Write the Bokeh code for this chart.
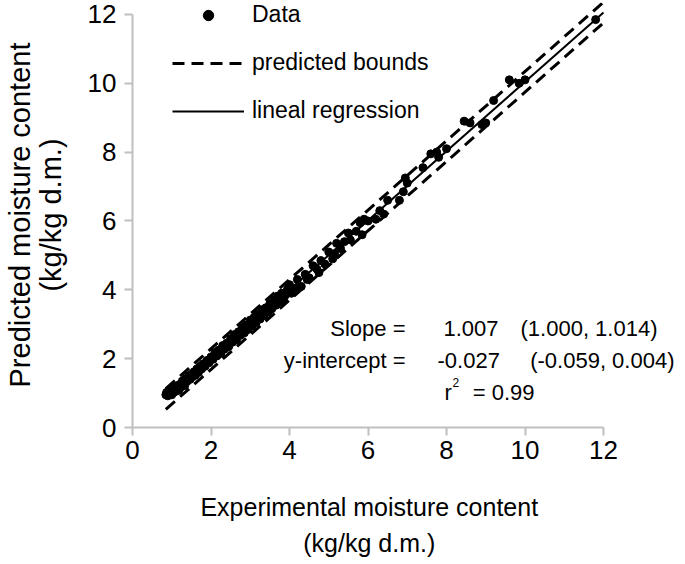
from bokeh.plotting import figure
from bokeh.models import Range1d, FixedTicker, Legend, LegendItem, Label, ColumnDataSource
from bokeh.embed import file_html
from bokeh.resources import INLINE

# ---- data ----
experimental = [
    0.85, 0.87, 0.90, 0.92, 0.95, 0.98, 1.00, 1.03, 1.05, 1.08, 1.10, 1.13, 1.15, 1.18, 1.20, 1.24, 1.27, 1.30,
    1.33, 1.36, 1.40, 1.43, 1.47, 1.50, 1.54, 1.57, 1.60, 1.64, 1.68, 1.72, 1.76, 1.80, 1.85, 1.90, 1.95, 2.00,
    2.05, 2.10, 2.15, 2.20, 2.25, 2.30, 2.35, 2.40, 2.45, 2.50, 2.55, 2.60, 2.65, 2.70, 2.75, 2.80, 2.85, 2.90,
    2.95, 3.00, 3.05, 3.10, 3.15, 3.20, 3.25, 3.30, 3.35, 3.40, 3.45, 3.50, 3.55, 3.60, 3.65, 3.70, 3.75, 3.80,
    3.85, 3.90, 3.95,
    4.00, 4.05, 4.15, 4.20, 4.30, 4.40, 4.45, 4.50, 4.60, 4.70, 4.75, 4.80, 4.90, 5.00, 5.10, 5.15, 5.20, 5.30,
    5.40, 5.50, 5.55, 5.70, 5.80, 5.85, 5.90, 6.00, 6.20, 6.30, 6.40, 6.50, 6.80, 6.90, 6.95, 7.00, 7.40, 7.60,
    7.75, 7.80, 8.00, 8.45, 8.60, 8.90, 9.00, 9.20, 9.60, 9.85, 10.00, 11.80,
]
predicted = [
    0.95, 1.02, 0.92, 1.05, 0.98, 1.08, 0.95, 1.12, 1.02, 1.15, 1.05, 1.20, 1.10, 1.08, 1.25, 1.18, 1.35, 1.28,
    1.22, 1.42, 1.35, 1.50, 1.40, 1.55, 1.48, 1.62, 1.52, 1.70, 1.60, 1.78, 1.70, 1.85, 1.78, 1.95, 1.88, 2.05,
    1.98, 2.18, 2.08, 2.25, 2.15, 2.38, 2.28, 2.45, 2.35, 2.58, 2.48, 2.70, 2.55, 2.78, 2.68, 2.90, 2.75, 2.98,
    2.85, 3.12, 2.95, 3.20, 3.05, 3.30, 3.15, 3.42, 3.25, 3.48, 3.35, 3.60, 3.45, 3.70, 3.55, 3.82, 3.65, 3.90,
    3.72, 3.85, 4.02,
    4.15, 3.90, 4.05, 4.30, 4.10, 4.45, 4.30, 4.35, 4.70, 4.60, 4.50, 4.85, 4.75, 5.10, 4.90, 5.05, 5.35, 5.20,
    5.40, 5.65, 5.45, 5.70, 5.95, 5.60, 6.05, 6.00, 6.05, 6.30, 6.20, 6.60, 6.60, 6.85, 7.25, 7.10, 7.55, 7.95,
    8.00, 7.85, 8.10, 8.90, 8.85, 8.80, 8.85, 9.50, 10.10, 10.00, 10.10, 11.85,
]

slope = 1.007
intercept = -0.027
bound_halfwidth = 0.3
fit_x = [0.85, 12.0]
fit_y = [slope * v + intercept for v in fit_x]
upper_y = [v + bound_halfwidth for v in fit_y]
lower_y = [v - bound_halfwidth for v in fit_y]

ticks = [0, 2, 4, 6, 8, 10, 12]

FONT = "Liberation Sans"
AXIS_COLOR = "#bfbfbf"
PX_X = 39.25   # pixels per x unit
PX_Y = 34.42   # pixels per y unit
FW, FH = 543, 425

p = figure(
    frame_width=FW, frame_height=FH,
    min_border_left=132, min_border_right=0, min_border_top=2, min_border_bottom=124,
    x_range=Range1d(0, FW / PX_X), y_range=Range1d(0, FH / PX_Y),
    output_backend="svg", toolbar_location=None,
)
p.outline_line_color = None
p.grid.visible = False
p.background_fill_color = "white"
p.border_fill_color = "white"

for ax in (p.xaxis[0], p.yaxis[0]):
    ax.ticker = FixedTicker(ticks=ticks)
    ax.bounds = (0, 12)
    ax.axis_line_color = AXIS_COLOR
    ax.axis_line_width = 2
    ax.major_tick_line_color = AXIS_COLOR
    ax.major_tick_line_width = 2
    ax.major_tick_out = 8
    ax.major_tick_in = 0
    ax.minor_tick_line_color = None
    ax.major_label_text_font = FONT
    ax.major_label_text_font_size = "26px"
    ax.major_label_text_color = "black"
    ax.axis_label_text_font = FONT
    ax.axis_label_text_font_style = "normal"
    ax.axis_label_text_color = "black"

pad = "\u00a0" * 10
p.xaxis.axis_label = "Experimental moisture content" + pad + "\n(kg/kg d.m.)" + pad
p.yaxis.axis_label = "Predicted moisture content\n(kg/kg d.m.)"
p.xaxis.axis_label_text_font_size = "25px"
p.yaxis.axis_label_text_font_size = "29px"
p.xaxis.axis_label_text_line_height = 1.3
p.yaxis.axis_label_text_line_height = 0.95
p.xaxis.major_label_standoff = 5
p.yaxis.major_label_standoff = 8
p.xaxis.axis_label_standoff = 31
p.yaxis.axis_label_standoff = 18

src = ColumnDataSource(dict(x=experimental, y=predicted))
r_up = p.line(fit_x, upper_y, line_color="black", line_width=3, line_dash="12 7")
r_lo = p.line(fit_x, lower_y, line_color="black", line_width=3, line_dash="12 7")
r_fit = p.line(fit_x, fit_y, line_color="black", line_width=2)
r_pts = p.scatter("x", "y", source=src, size=8, marker="circle", fill_color="black", line_color="black")

legend = Legend(
    items=[
        LegendItem(label="Data", renderers=[r_pts]),
        LegendItem(label="predicted bounds", renderers=[r_up]),
        LegendItem(label="lineal regression", renderers=[r_fit]),
    ],
    location=(40, 303),
    glyph_width=72, glyph_height=26, label_height=26,
    label_standoff=8, spacing=21, padding=0, margin=0,
    border_line_color=None, background_fill_alpha=0,
    label_text_font=FONT, label_text_font_size="23px", label_text_color="black",
)
p.add_layout(legend, "center")


def X(px):
    return (px - 135) / PX_X


def Y(py):
    return (426 - py) / PX_Y


TXT = dict(text_font=FONT, text_font_size="22px", text_color="black", text_baseline="middle")
p.add_layout(Label(x=X(408), y=Y(327), text="Slope =", text_align="right", **TXT))
p.add_layout(Label(x=X(446), y=Y(327), text="1.007", text_align="left", **TXT))
p.add_layout(Label(x=X(660), y=Y(327), text="(1.000, 1.014)", text_align="right", **TXT))
p.add_layout(Label(x=X(408), y=Y(359), text="y-intercept =", text_align="right", **TXT))
p.add_layout(Label(x=X(440), y=Y(359), text="-0.027", text_align="left", **TXT))
p.add_layout(Label(x=X(677), y=Y(359), text="(-0.059, 0.004)", text_align="right", **TXT))
p.add_layout(Label(x=X(447), y=Y(391), text="r", text_align="left", **TXT))
p.add_layout(Label(x=X(455), y=Y(381), text="2", text_align="left", text_font=FONT, text_font_size="12px",
                   text_color="black", text_baseline="middle"))
p.add_layout(Label(x=X(537), y=Y(391), text="= 0.99", text_align="right", **TXT))

open("out.html", "w").write(file_html(p, INLINE))
